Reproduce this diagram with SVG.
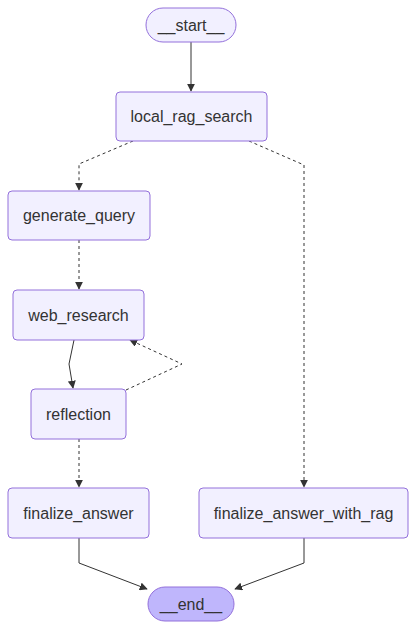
<svg xmlns="http://www.w3.org/2000/svg" width="417" height="630" viewBox="0 0 417 630">
<style>
.n{fill:#f2f0ff;stroke:#9370db;stroke-width:1}
.e{fill:#bfb6fc;stroke:#9370db;stroke-width:1}
.t{font-family:"Liberation Sans",Arial,sans-serif;font-size:16px;fill:#333;text-anchor:middle;dominant-baseline:central}
.c{fill:none;stroke:#333;stroke-width:1}
.d{stroke-dasharray:3 3}
</style>
<defs>
<marker id="a" viewBox="0 0 10 10" refX="9" refY="5" markerWidth="8" markerHeight="8" orient="auto" markerUnits="userSpaceOnUse">
<path d="M0,0 L10,5 L0,10 z" fill="#333"/>
</marker>
</defs>
<rect width="417" height="630" fill="#fff"/>
<g id="edges">
<path class="c" d="M191,42 L191,91" marker-end="url(#a)"/>
<path class="c d" d="M133,141 L79,164 L79,190" marker-end="url(#a)"/>
<path class="c d" d="M249,141 L304,165 L304,487" marker-end="url(#a)"/>
<path class="c d" d="M79,240 L79,289" marker-end="url(#a)"/>
<path class="c" d="M74,340 L69,364 L73,388" marker-end="url(#a)"/>
<path class="c d" d="M126,390 L182,364 L130,340" marker-end="url(#a)"/>
<path class="c d" d="M79,439 L79,487" marker-end="url(#a)"/>
<path class="c" d="M79,538 L79,563 L147,589" marker-end="url(#a)"/>
<path class="c" d="M304,538 L304,563 L235,589" marker-end="url(#a)"/>
</g>
<g id="start"><rect class="n" x="146" y="8" width="90" height="34" rx="17"/><text class="t" x="191" y="25">__start__</text></g>
<g id="local_rag_search"><rect class="n" x="116" y="92" width="151" height="49" rx="4"/><text class="t" x="191.5" y="116.5">local_rag_search</text></g>
<g id="generate_query"><rect class="n" x="8" y="191" width="142" height="49" rx="4"/><text class="t" x="79" y="215.5">generate_query</text></g>
<g id="web_research"><rect class="n" x="13" y="290" width="131" height="50" rx="4"/><text class="t" x="78.5" y="315">web_research</text></g>
<g id="reflection"><rect class="n" x="31" y="389" width="95" height="50" rx="4"/><text class="t" x="78.5" y="414">reflection</text></g>
<g id="finalize_answer"><rect class="n" x="8" y="488" width="141" height="50" rx="4"/><text class="t" x="78.5" y="513">finalize_answer</text></g>
<g id="finalize_answer_with_rag"><rect class="n" x="199" y="488" width="209" height="50" rx="4"/><text class="t" x="303.5" y="513">finalize_answer_with_rag</text></g>
<g id="end"><rect class="e" x="148" y="587" width="86" height="34" rx="17"/><text class="t" x="191" y="604">__end__</text></g>
</svg>
